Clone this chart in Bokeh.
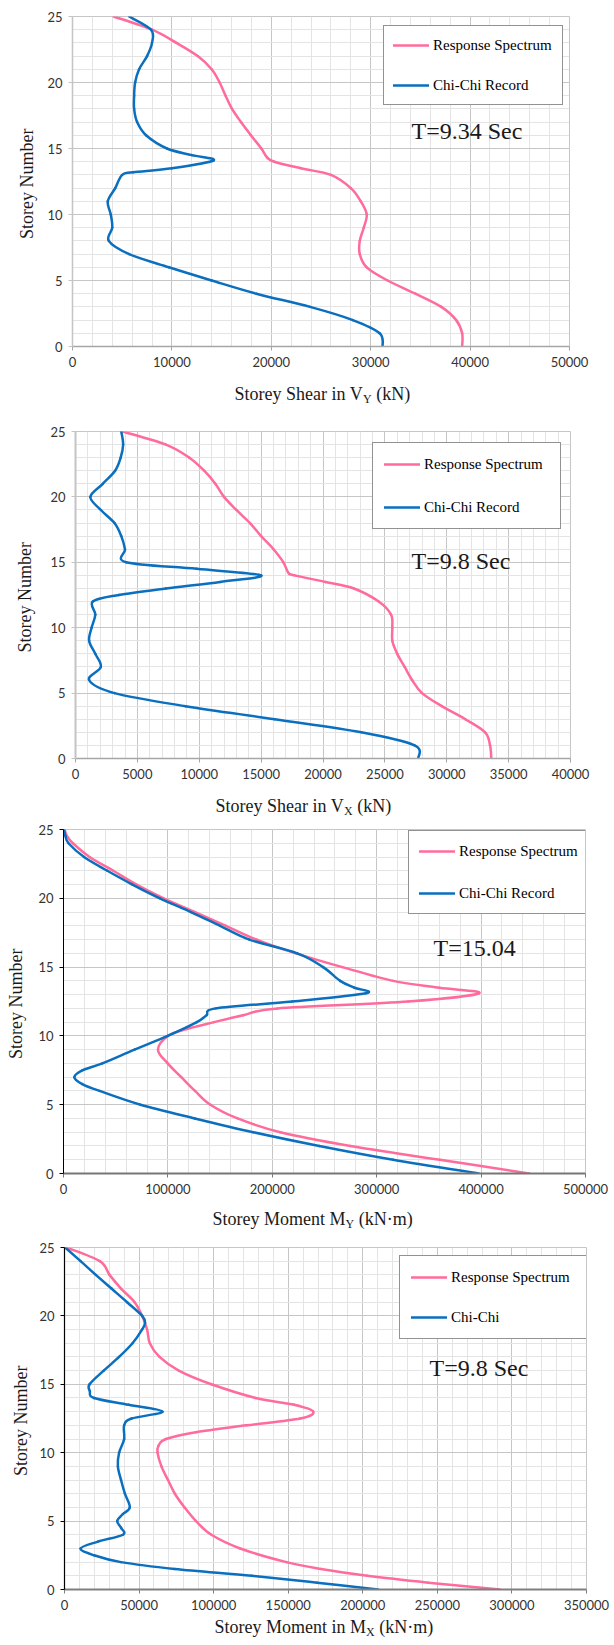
import math
from bokeh.plotting import figure
from bokeh.layouts import column
from bokeh.models import (Range1d, SingleIntervalTicker, BasicTickFormatter,
                          Label, Legend, LegendItem)
from bokeh.embed import file_html
from bokeh.resources import INLINE

# ---------------- data ----------------
SERIES_NAMES = ["Response Spectrum", "Chi-Chi Record"]
SERIES_NAMES_P4 = ["Response Spectrum", "Chi-Chi"]
Y_TITLE = "Storey  Number"

# Panel 1 : Storey shear VY (kN)
VY_RS_STOREY = [25, 24, 23, 22, 21, 20, 19, 18, 17, 16, 15, 14.3, 14, 13.5, 13, 12, 11, 10, 9, 8, 7, 6, 5, 4, 3, 2, 1, 0]
VY_RS = [4140, 8000, 10450, 12600, 14000, 14800, 15400, 16050, 16950, 17950, 19000, 19600, 20300, 23000, 26000,
         28000, 29000, 29600, 29300, 28900, 28900, 29600, 31700, 34500, 37100, 38600, 39200, 39200]
VY_CC_STOREY = [25, 24, 23, 22, 21, 20, 19, 18, 17, 16, 15, 14.5, 14.1, 13.5, 13.2, 13, 12, 11, 10, 9, 8, 7, 6, 5, 4, 3, 2, 1, 0]
VY_CC = [5700, 7900, 8000, 7500, 6700, 6300, 6200, 6200, 6500, 7400, 9500, 12000, 14200, 10000, 6100, 5000, 4300,
         3550, 3850, 4000, 3650, 5700, 9700, 14000, 18500, 23900, 28200, 30900, 31200]

# Panel 2 : Storey shear VX (kN)
VX_RS_STOREY = [25, 24, 23, 22, 21, 20, 19, 18, 17, 16, 15, 14.2, 14, 13.5, 13, 12, 11, 10, 9, 8, 7, 6, 5, 4, 3, 2, 1, 0]
VX_RS = [3800, 7300, 9200, 10400, 11300, 12000, 13000, 14100, 15000, 16000, 16800, 17200, 17700, 20200, 22500,
         24500, 25500, 25600, 25600, 26000, 26600, 27200, 28000, 29600, 31500, 33100, 33500, 33600]
VX_CC_STOREY = [25, 24, 23, 22, 21, 20, 19, 18, 17, 16, 15, 14.5, 14, 13.5, 13, 12.5, 12, 11, 10, 9, 8, 7, 6, 5, 4, 3, 2, 1, 0]
VX_CC = [3700, 3850, 3650, 3200, 2200, 1200, 2050, 3150, 3700, 4000, 4100, 9800, 15000, 11700, 7300, 3500, 1400,
         1600, 1300, 1100, 1600, 2050, 1100, 3150, 8900, 16100, 23100, 27400, 27700]

# Panel 3 : Storey moment MY (kN.m)
MY_RS_STOREY = [25, 24.5, 24, 23, 22, 21, 20, 19, 18, 17, 16, 15, 14, 13.5, 13.1, 12.5, 12, 11.5, 11, 10.5, 10, 9, 8, 7, 6, 5, 4, 3, 2, 1, 0]
MY_RS = [1000, 3500, 9000, 25000, 47700, 70000, 96000, 126000, 155600, 185000, 222600, 267000, 315700, 360000,
         398000, 330000, 205000, 172000, 144000, 118000, 100000, 90500, 99800, 112800, 126000, 140700, 166800,
         207700, 274800, 360400, 446000]
MY_CC_STOREY = [25, 24.5, 24, 23, 22, 21, 20, 19, 18, 17, 16, 15, 14, 13.5, 13.1, 12.5, 12, 11.5, 11, 10, 9, 8, 7.5, 7, 6.5, 6, 5, 4, 3, 2, 1, 0]
MY_CC = [400, 2000, 4800, 19700, 42000, 66000, 92300, 122000, 150000, 178000, 224000, 248700, 265000, 278500,
         289600, 219000, 146000, 137000, 127700, 99800, 68000, 37200, 18000, 10400, 18000, 34600, 73700, 125800,
         181700, 245000, 315700, 397600]

# Panel 4 : Storey moment MX (kN.m)
MX_RS_STOREY = [25, 24, 23, 22, 21, 20, 19, 18, 17, 16, 15, 14, 13.5, 13, 12.5, 12, 11.5, 11, 10.5, 10, 9, 8, 7, 6, 5, 4, 3, 2, 1.5, 1, 0.5, 0]
MX_RS = [1300, 23700, 30200, 37900, 47000, 52100, 55400, 57200, 63700, 76600, 98500, 128200, 154000, 166800,
         158000, 122000, 88000, 68000, 63000, 62400, 65000, 69400, 74000, 80500, 88200, 98500, 117800, 148800,
         172000, 203000, 244000, 291900]
MX_CC_STOREY = [25, 24, 23, 22, 21, 20, 19.5, 19, 18, 17, 16, 15, 14.5, 14, 13.5, 13, 12.5, 12, 11, 10, 9, 8, 7, 6,
                5.5, 5, 4.5, 4, 3.5, 3, 2.5, 2, 1.5, 1, 0.5, 0]
MX_CC = [500, 10800, 21000, 31500, 42000, 52100, 54000, 52000, 45600, 36600, 26300, 16800, 17000, 19800, 43000,
         65700, 45000, 40000, 40000, 36600, 35800, 37900, 40500, 43800, 39000, 35300, 38000, 39200, 22400, 10800,
         19800, 37900, 74000, 125600, 169400, 210200]

X_ENDS = [50000, 40000, 500000, 350000]
X_MAJORS = [10000, 5000, 100000, 50000]
NOTES = ["T=9.34 Sec", "T=9.8 Sec", "T=15.04", "T=9.8 Sec"]
TITLES = [("Storey Shear in V", "Y", "(kN)"),
          ("Storey Shear in V", "X", "(kN)"),
          ("Storey Moment M", "Y", "(kN\u00b7m)"),
          ("Storey Moment in M", "X", "(kN\u00b7m)")]

# ---------------- layout / style ----------------
PINK = "#ff6b9a"
BLUE = "#0a6fbf"
SERIF = "Liberation Serif"
SANS = "Lato"
PAGE_MARGIN = 8    # the page template has no body margin, so the column carries it
BORDER_L = 64      # same inner left border for every figure of the column
BORDER_R = 20      # same inner right border for every figure of the column

# page positions (px) of each panel's plotting frame and of its texts
LAYOUT = [
    dict(fig_top=8, frame_left=72, top=8, fw=497, fh=330, bottom=30, ylab_standoff=7,
         strip_h=44, title_px=(234, 393), note_px=(411, 130),
         leg_px=(383, 105), leg_pad=9, leg_spacing=20, leg_lw=120,
         yaxis=("#c4c4c4", 1.5), xaxis=("#a6a6a6", 1.5)),
    dict(fig_top=420, frame_left=75, top=11, fw=495, fh=327, bottom=30, ylab_standoff=12,
         strip_h=30, title_px=(215, 805), note_px=(411, 560),
         leg_px=(372, 529), leg_pad=11, leg_spacing=23, leg_lw=125,
         yaxis=("#c4c4c4", 2), xaxis=("#a6a6a6", 1.5)),
    dict(fig_top=818, frame_left=63, top=11, fw=528, fh=344, bottom=30, ylab_standoff=9,
         strip_h=33, title_px=(212, 1218), note_px=(433, 947),
         leg_px=(408, 914), leg_pad=10, leg_spacing=22, leg_lw=118,
         yaxis=("#000000", 1), xaxis=("#767676", 2)),
    dict(fig_top=1236, frame_left=64, top=11, fw=530, fh=342, bottom=28, ylab_standoff=5,
         strip_h=20, title_px=(214, 1626), note_px=(429, 1367),
         leg_px=(399, 1339), leg_pad=11, leg_spacing=20, leg_lw=127,
         yaxis=("#000000", 1.2), xaxis=("#7f7f7f", 2)),
]

# Times New Roman / Liberation Serif advance widths (per 1000 em)
TNR_W = {' ': 250, 'S': 556, 't': 278, 'o': 500, 'r': 333, 'e': 444, 'y': 500, 'h': 500,
         'a': 444, 'i': 278, 'n': 500, 'V': 722, 'M': 889, 'm': 778, 'X': 722, 'Y': 722}


def text_w(s, size):
    return sum(TNR_W.get(c, 500) for c in s) * size / 1000.0


def smooth_line(p, xs, ys, color):
    """Draw the series as a smoothed line (cubic Bezier segments through every
    read point, like a spreadsheet's 'smoothed line')."""
    n = len(xs)
    x0, y0, x1, y1, cx0, cy0, cx1, cy1 = [], [], [], [], [], [], [], []
    for k in range(n - 1):
        a = max(k - 1, 0)
        d = min(k + 2, n - 1)
        x0.append(xs[k]); y0.append(ys[k])
        x1.append(xs[k + 1]); y1.append(ys[k + 1])
        cx0.append(xs[k] + (xs[k + 1] - xs[a]) / 6.0)
        cy0.append(ys[k] + (ys[k + 1] - ys[a]) / 6.0)
        cx1.append(xs[k + 1] - (xs[d] - xs[k]) / 6.0)
        cy1.append(ys[k + 1] - (ys[d] - ys[k]) / 6.0)
    return p.bezier(x0=x0, y0=y0, x1=x1, y1=y1, cx0=cx0, cy0=cy0, cx1=cx1, cy1=cy1,
                    line_color=color, line_width=2.5, line_cap="round")


def make_panel(i, rs_y, rs_x, cc_y, cc_x, names):
    L = LAYOUT[i]
    shift = L["frame_left"] - PAGE_MARGIN - BORDER_L   # css margin that puts the frame at its page x
    p = figure(frame_width=L["fw"], frame_height=L["fh"],
               min_border_left=BORDER_L, min_border_right=BORDER_R,
               min_border_top=L["top"], min_border_bottom=L["bottom"],
               x_range=Range1d(0, X_ENDS[i]), y_range=Range1d(0, 25),
               output_backend="svg", toolbar_location=None,
               background_fill_color="white", border_fill_color="white",
               margin=(0, 0, 0, shift))
    p.outline_line_color = "#c6c6c6"

    p.xaxis.ticker = SingleIntervalTicker(interval=X_MAJORS[i], num_minor_ticks=5)
    p.yaxis.ticker = SingleIntervalTicker(interval=5, num_minor_ticks=5)
    p.xaxis.formatter = BasicTickFormatter(use_scientific=False)
    p.xgrid.ticker = p.xaxis.ticker
    p.ygrid.ticker = p.yaxis.ticker
    for g in (p.xgrid, p.ygrid):
        g.grid_line_color = "#c6c6c6"
        g.grid_line_width = 1
        g.minor_grid_line_color = "#e4e4e4"
        g.minor_grid_line_width = 1

    for ax, (col, w) in ((p.xaxis, L["xaxis"]), (p.yaxis, L["yaxis"])):
        ax.axis_line_color = col
        ax.axis_line_width = w
        ax.major_tick_line_color = col
        ax.major_tick_line_width = 1
        ax.major_tick_in = 0
        ax.major_tick_out = 4
        ax.minor_tick_line_color = None
        ax.major_label_text_font = SANS
        ax.major_label_text_font_size = "13px"
        ax.major_label_text_color = "#333333"
        ax.major_label_standoff = 6

    p.yaxis.axis_label = Y_TITLE
    p.yaxis.axis_label_text_font = SERIF
    p.yaxis.axis_label_text_font_size = "18px"
    p.yaxis.axis_label_text_font_style = "normal"
    p.yaxis.axis_label_text_color = "#1a1a1a"
    p.yaxis.axis_label_standoff = L["ylab_standoff"]

    r1 = smooth_line(p, rs_x, rs_y, PINK)
    r2 = smooth_line(p, cc_x, cc_y, BLUE)

    frame_left = L["frame_left"]
    frame_bottom = L["fig_top"] + L["top"] + L["fh"]

    def fx(px):
        return px - frame_left

    def fy(py):
        return frame_bottom - py

    lx, ly = L["leg_px"]
    legend = Legend(items=[LegendItem(label=names[0], renderers=[r1]),
                           LegendItem(label=names[1], renderers=[r2])],
                    location=(fx(lx), fy(ly)),
                    padding=L["leg_pad"], spacing=L["leg_spacing"],
                    glyph_width=36, glyph_height=20, label_height=20,
                    label_width=L["leg_lw"], label_standoff=4, margin=0,
                    label_text_font=SERIF, label_text_font_size="15px",
                    label_text_color="#000000",
                    border_line_color="#262626", border_line_width=1.3,
                    background_fill_color="white", background_fill_alpha=1.0)
    p.add_layout(legend, "center")

    nx, ny = L["note_px"]
    p.add_layout(Label(x=fx(nx), y=fy(ny), x_units="screen", y_units="screen",
                       text=NOTES[i], text_font=SERIF, text_font_size="24px",
                       text_color="#1a1a1a", text_align="left", text_baseline="middle"))

    # strip below the chart holding the x-axis title (with a true subscript);
    # it has the same borders / margin as the chart so its frame lines up with it
    chart_h = L["top"] + L["fh"] + L["bottom"]
    strip_top = L["fig_top"] + chart_h
    sh = L["strip_h"]
    s = figure(frame_width=L["fw"], frame_height=sh,
               min_border_left=BORDER_L, min_border_right=BORDER_R,
               min_border_top=0, min_border_bottom=0,
               x_range=Range1d(0, L["fw"]), y_range=Range1d(0, sh),
               x_axis_type=None, y_axis_type=None,
               output_backend="svg", toolbar_location=None,
               margin=(0, 0, 0, shift))
    s.grid.visible = False
    s.outline_line_color = None

    tx, ty = L["title_px"]
    main, sub, rest = TITLES[i]
    w_main = text_w(main, 18)
    w_sub = text_w(sub, 12)
    w_space = text_w(" ", 18)
    sx0 = tx - frame_left
    sy0 = sh - (ty - strip_top)
    for txt, xx, yy, size in ((main, sx0, sy0, "18px"),
                              (sub, sx0 + w_main, sy0 - 5, "12px"),
                              (rest, sx0 + w_main + w_sub + w_space, sy0, "18px")):
        s.add_layout(Label(x=xx, y=yy, x_units="screen", y_units="screen",
                           text=txt, text_font=SERIF, text_font_size=size,
                           text_color="#1a1a1a", text_align="left", text_baseline="middle"))
    return p, s


p1, s1 = make_panel(0, VY_RS_STOREY, VY_RS, VY_CC_STOREY, VY_CC, SERIES_NAMES)
p2, s2 = make_panel(1, VX_RS_STOREY, VX_RS, VX_CC_STOREY, VX_CC, SERIES_NAMES)
p3, s3 = make_panel(2, MY_RS_STOREY, MY_RS, MY_CC_STOREY, MY_CC, SERIES_NAMES)
p4, s4 = make_panel(3, MX_RS_STOREY, MX_RS, MX_CC_STOREY, MX_CC, SERIES_NAMES_P4)

page = column(p1, s1, p2, s2, p3, s3, p4, s4, spacing=0,
              margin=(PAGE_MARGIN, 0, 0, PAGE_MARGIN))
open("out.html", "w").write(file_html(page, INLINE))
